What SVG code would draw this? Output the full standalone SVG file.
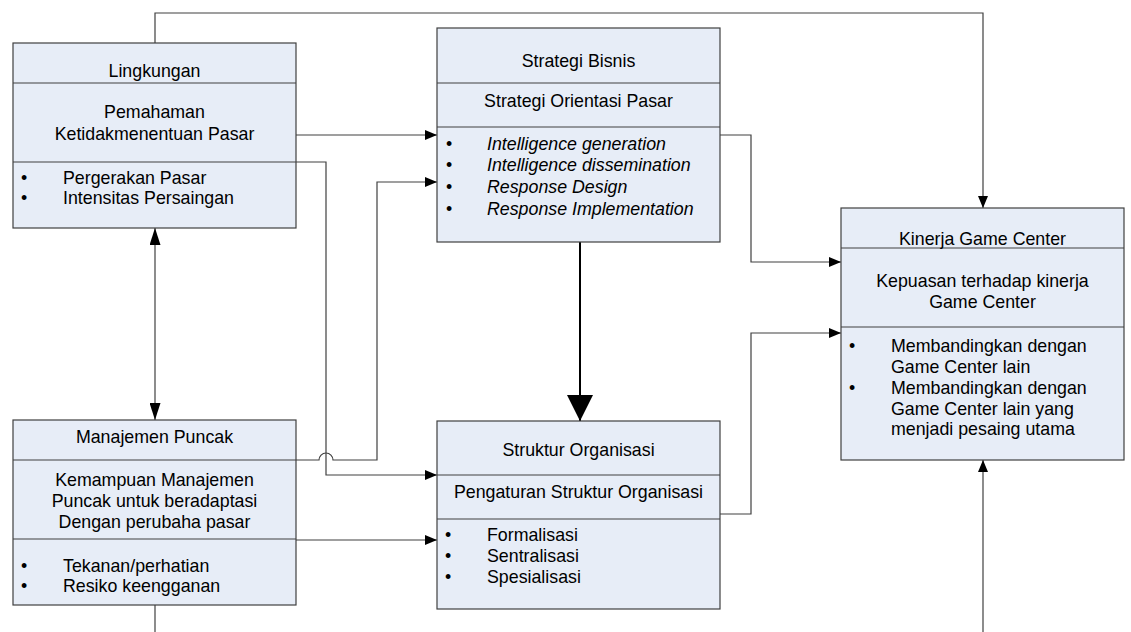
<svg xmlns="http://www.w3.org/2000/svg" width="1131" height="632" viewBox="0 0 1131 632">
<style>
.box{fill:#E7EDF7;stroke:#404040;stroke-width:1.2}
.div{stroke:#404040;stroke-width:1.2;fill:none}
.t{font-family:"Liberation Sans",Arial,sans-serif;font-size:17.8px;fill:#000}
.c{text-anchor:middle}
.i{font-style:italic}
.ln{fill:none;stroke:#404040;stroke-width:1.2}
</style>
<defs>
<marker id="ah" viewBox="0 0 12 10" refX="12" refY="5" markerWidth="12" markerHeight="10" markerUnits="userSpaceOnUse" orient="auto-start-reverse">
<path d="M0,0 L12,5 L0,10 z" fill="#000"/>
</marker>
<marker id="ahl" viewBox="0 0 17 11" refX="17" refY="5.5" markerWidth="17" markerHeight="11" markerUnits="userSpaceOnUse" orient="auto-start-reverse">
<path d="M0,0 L17,5.5 L0,11 z" fill="#000"/>
</marker>
<marker id="big" viewBox="0 0 26 26" refX="26" refY="13" markerWidth="26" markerHeight="26" markerUnits="userSpaceOnUse" orient="auto">
<path d="M0,0 L26,13 L0,26 z" fill="#000"/>
</marker>
</defs>
<rect width="1131" height="632" fill="#fff"/>
<g id="connectors">
<path class="ln" d="M155,43 V13 H983 V208" marker-end="url(#ah)"/>
<path class="ln" d="M296,135 H437" marker-end="url(#ah)"/>
<path class="ln" d="M296,162 H326 V475 H437" marker-end="url(#ah)"/>
<path class="ln" d="M296,460 H319 A7,7 0 0 1 333,460 H377 V182 H437" marker-end="url(#ah)"/>
<path class="ln" d="M296,540 H437" marker-end="url(#ah)"/>
<path class="ln" d="M720,135 H751 V262 H841" marker-end="url(#ah)"/>
<path class="ln" d="M720,514 H751 V333 H841" marker-end="url(#ah)"/>
<path class="ln" d="M155,605 V632"/>
<path class="ln" d="M983,632 V460" marker-end="url(#ah)"/>
<path class="ln" d="M155,228 V420" marker-start="url(#ahl)" marker-end="url(#ahl)"/>
<path fill="none" stroke="#000" stroke-width="2" d="M580,242 V421" marker-end="url(#big)"/>
</g>
<g id="lingkungan">
<rect class="box" x="13" y="43" width="283" height="185"/>
<path class="div" d="M13,83 H296 M13,162 H296"/>
<text class="t c" x="154.5" y="77">Lingkungan</text>
<text class="t c" x="154.5" y="118">Pemahaman</text>
<text class="t c" x="154.5" y="140">Ketidakmenentuan Pasar</text>
<text class="t" x="21" y="184">•</text>
<text class="t" x="63" y="184">Pergerakan Pasar</text>
<text class="t" x="21" y="204">•</text>
<text class="t" x="63" y="204">Intensitas Persaingan</text>
</g>
<g id="strategi">
<rect class="box" x="437" y="28" width="283" height="214"/>
<path class="div" d="M437,83 H720 M437,127 H720"/>
<text class="t c" x="578.5" y="67">Strategi Bisnis</text>
<text class="t c" x="578.5" y="107">Strategi Orientasi Pasar</text>
<text class="t" x="446" y="150">•</text>
<text class="t i" x="487" y="150">Intelligence generation</text>
<text class="t" x="446" y="171">•</text>
<text class="t i" x="487" y="171">Intelligence dissemination</text>
<text class="t" x="446" y="193">•</text>
<text class="t i" x="487" y="193">Response Design</text>
<text class="t" x="446" y="215">•</text>
<text class="t i" x="487" y="215">Response Implementation</text>
</g>
<g id="kinerja">
<rect class="box" x="841" y="208" width="283" height="252"/>
<path class="div" d="M841,248 H1124 M841,327 H1124"/>
<text class="t c" x="982.5" y="245">Kinerja Game Center</text>
<text class="t c" x="982.5" y="287">Kepuasan terhadap kinerja</text>
<text class="t c" x="982.5" y="308">Game Center</text>
<text class="t" x="849" y="352">•</text>
<text class="t" x="891" y="352">Membandingkan dengan</text>
<text class="t" x="891" y="373">Game Center lain</text>
<text class="t" x="849" y="394">•</text>
<text class="t" x="891" y="394">Membandingkan dengan</text>
<text class="t" x="891" y="415">Game Center lain yang</text>
<text class="t" x="891" y="435">menjadi pesaing utama</text>
</g>
<g id="manajemen">
<rect class="box" x="13" y="420" width="283" height="185"/>
<path class="div" d="M13,460 H296 M13,539 H296"/>
<text class="t c" x="154.5" y="443">Manajemen Puncak</text>
<text class="t c" x="154.5" y="486">Kemampuan Manajemen</text>
<text class="t c" x="154.5" y="507">Puncak untuk beradaptasi</text>
<text class="t c" x="154.5" y="528">Dengan perubaha pasar</text>
<text class="t" x="21" y="572">•</text>
<text class="t" x="63" y="572">Tekanan/perhatian</text>
<text class="t" x="21" y="592">•</text>
<text class="t" x="63" y="592">Resiko keengganan</text>
</g>
<g id="struktur">
<rect class="box" x="437" y="421" width="283" height="188"/>
<path class="div" d="M437,475 H720 M437,519 H720"/>
<text class="t c" x="578.5" y="456">Struktur Organisasi</text>
<text class="t c" x="578.5" y="498">Pengaturan Struktur Organisasi</text>
<text class="t" x="445" y="541">•</text>
<text class="t" x="487" y="541">Formalisasi</text>
<text class="t" x="445" y="562">•</text>
<text class="t" x="487" y="562">Sentralisasi</text>
<text class="t" x="445" y="583">•</text>
<text class="t" x="487" y="583">Spesialisasi</text>
</g>
</svg>
